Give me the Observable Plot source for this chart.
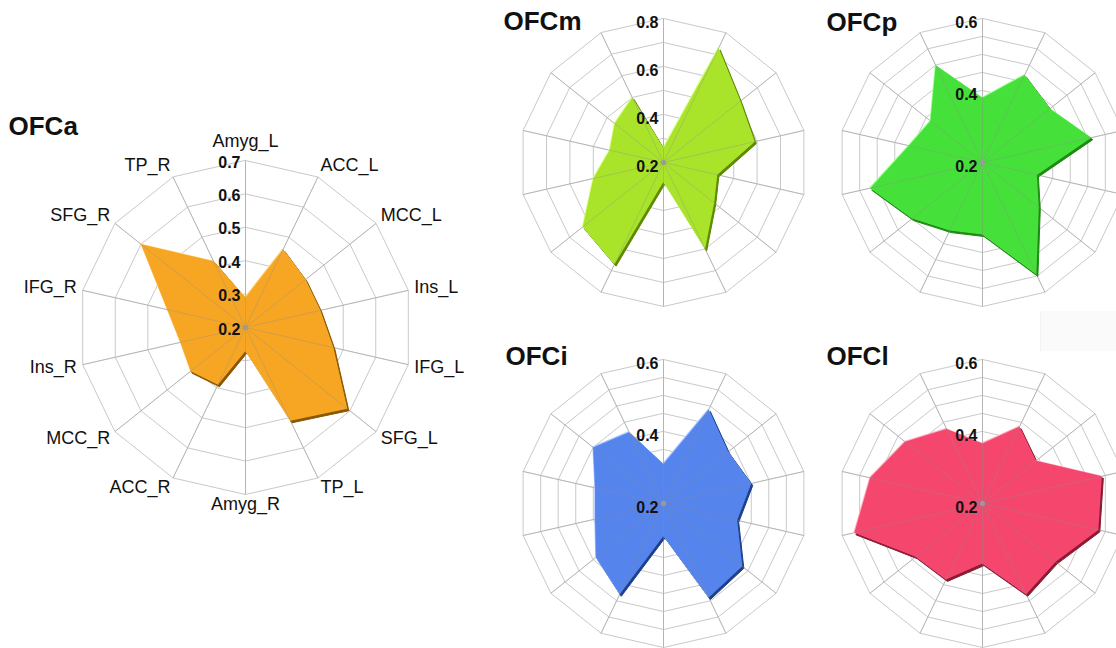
<!DOCTYPE html>
<html><head><meta charset="utf-8">
<script src="https://cdn.jsdelivr.net/npm/d3@7"></script>
<script src="https://cdn.jsdelivr.net/npm/@observablehq/plot@0.6"></script>
<style>
html,body{margin:0;padding:0;background:#fff;}
#root{position:relative;width:1116px;height:648px;overflow:hidden;font-family:"Liberation Sans",Arial,sans-serif;}
.title{position:absolute;font-size:26px;font-weight:bold;line-height:26px;color:#111;white-space:nowrap;}
.panel{position:absolute;}
.panel svg{max-width:none !important;display:block;}
.ghost{position:absolute;left:1040px;top:311px;width:80px;height:40px;background:#fafafa;border-left:1px solid #f2f2f2;}
</style></head><body><div id="root"><div class="ghost"></div></div>
<script>
// ---- data ----
const regions = ["Amyg_L","ACC_L","MCC_L","Ins_L","IFG_L","SFG_L","TP_L","Amyg_R","ACC_R","MCC_R","Ins_R","IFG_R","SFG_R","TP_R"];
const OFCa = [0.29,0.46,0.43,0.43,0.47,0.59,0.51,0.27,0.39,0.41,0.40,0.44,0.60,0.42];
const OFCm = [0.26,0.73,0.61,0.59,0.43,0.47,0.60,0.28,0.67,0.63,0.50,0.43,0.46,0.50];
const OFCp = [0.38,0.47,0.44,0.51,0.355,0.40,0.545,0.40,0.41,0.45,0.52,0.41,0.385,0.50];
const OFCi = [0.31,0.49,0.43,0.45,0.41,0.48,0.49,0.29,0.48,0.44,0.395,0.395,0.45,0.42];
const OFCl = [0.367,0.437,0.39,0.54,0.53,0.46,0.48,0.367,0.434,0.437,0.565,0.52,0.475,0.43];
const ticksA = [0.2,0.3,0.4,0.5,0.6,0.7];
const ticksM = [0.2,0.4,0.6,0.8];
const ticksS = [0.2,0.4,0.6];

// ---- layout / style ----
const charts = [
  {name:"OFCa", values:OFCa, ticks:ticksA, min:0.2, max:0.7, step:0.1, cx:245, cy:327, R:167, pad:245, labels:true,
   fill:"#F7A623", dark:"#8A5600", light:"#FFD584", tx:8.5, ty:113, tdy:2},
  {name:"OFCm", values:OFCm, ticks:ticksM, min:0.2, max:0.8, step:0.1, cx:663, cy:162, R:144, pad:160, labels:false,
   fill:"#A9E42A", dark:"#5E8A00", light:"#D9FF8A", tx:503.5, ty:8, tdy:4},
  {name:"OFCp", values:OFCp, ticks:ticksS, min:0.2, max:0.6, step:0.05, cx:982, cy:162, R:144, pad:160, labels:false,
   fill:"#46E03A", dark:"#1E8A12", light:"#A6FF9A", tx:826.5, ty:9, tdy:4},
  {name:"OFCi", values:OFCi, ticks:ticksS, min:0.2, max:0.6, step:0.05, cx:663, cy:503, R:144, pad:160, labels:false,
   fill:"#5484EC", dark:"#1F3F8C", light:"#A9C4FF", tx:505.5, ty:343, tdy:4},
  {name:"OFCl", values:OFCl, ticks:ticksS, min:0.2, max:0.6, step:0.05, cx:982, cy:503, R:144, pad:160, labels:false,
   fill:"#F5476E", dark:"#8C1A33", light:"#FFA9BC", tx:826.5, ty:343, tdy:4}
];

const root = document.getElementById("root");
const N = regions.length;
const ang = i => i * 2 * Math.PI / N;

for (const c of charts) {
  const span = c.max - c.min;
  const k = span / c.R;            // value units per pixel
  const S = 2 * c.pad;
  const lim = c.pad * k;

  const axesData = regions.map((name, i) => ({name, i, s: Math.sin(ang(i)), co: Math.cos(ang(i))}));
  const ringVals = d3.range(1, Math.round(span / c.step) + 1).map(j => j * c.step);
  const ringPts = ringVals.flatMap(r => axesData.map(a => ({ring: r, x: r * a.s, y: r * a.co})));
  const poly = c.values.map((v, i) => ({x: (v - c.min) * axesData[i].s, y: (v - c.min) * axesData[i].co}));

  const marks = [
    Plot.line(ringPts, {x: "x", y: "y", z: "ring", curve: "linear-closed", stroke: "#c9c9c9", strokeWidth: 1}),
    Plot.link(axesData, {x1: () => 0, y1: () => 0, x2: a => span * a.s, y2: a => span * a.co, stroke: "#c9c9c9", strokeWidth: 1}),
    Plot.line(poly, {x: "x", y: "y", curve: "linear-closed", fill: c.dark, stroke: c.dark, strokeWidth: 1, dx: 1.5, dy: 2}),
    Plot.line(poly, {x: "x", y: "y", curve: "linear-closed", fill: c.light, stroke: "none", dx: -0.8, dy: -0.8}),
    Plot.line(poly, {x: "x", y: "y", curve: "linear-closed", fill: c.fill, stroke: "none"}),
    Plot.link(axesData, {x1: () => 0, y1: () => 0, x2: a => span * a.s, y2: a => span * a.co, stroke: "#8c8c8c", strokeOpacity: 0.35, strokeWidth: 1}),
    Plot.dot([0], {x: () => 0, y: () => 0, r: 2.5, fill: "#9a9a9a", stroke: "none"}),
    Plot.text(c.ticks, {x: () => 0, y: t => t - c.min, text: t => t.toFixed(1), textAnchor: "end", dx: -5, dy: c.tdy,
      fontSize: 16, fontWeight: "bold", fill: "#111"})
  ];

  if (c.labels) {
    const lx = a => span * a.s + a.s * 6 * k;
    const ly = a => span * a.co + a.co * (a.co > 0.99 ? 19 : (a.co > 0 ? 13 : 10)) * k;
    const common = {x: lx, y: ly, text: "name", fontSize: 18, fill: "#111"};
    marks.push(
      Plot.text(axesData.filter(a => Math.abs(a.s) < 0.01), {...common, textAnchor: "middle"}),
      Plot.text(axesData.filter(a => a.s >= 0.01), {...common, textAnchor: "start"}),
      Plot.text(axesData.filter(a => a.s <= -0.01), {...common, textAnchor: "end"})
    );
  }

  const svg = Plot.plot({
    width: S, height: S, margin: 0,
    x: {domain: [-lim, lim], axis: null},
    y: {domain: [-lim, lim], axis: null},
    style: {fontFamily: "Liberation Sans, Arial, sans-serif", background: "transparent", overflow: "visible", maxWidth: "none"},
    marks
  });
  const wrap = document.createElement("div");
  wrap.className = "panel";
  wrap.style.left = (c.cx - c.pad) + "px";
  wrap.style.top = (c.cy - c.pad) + "px";
  wrap.style.width = S + "px";
  wrap.style.height = S + "px";
  wrap.appendChild(svg);
  root.appendChild(wrap);

  const t = document.createElement("div");
  t.className = "title";
  t.style.left = c.tx + "px";
  t.style.top = c.ty + "px";
  t.textContent = c.name;
  root.appendChild(t);
}
</script></body></html>
